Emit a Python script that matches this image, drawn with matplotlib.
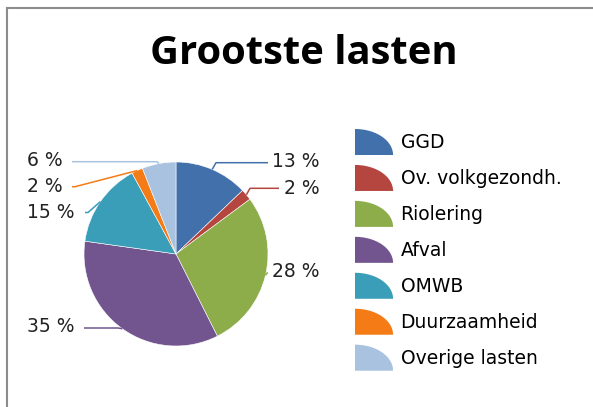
import numpy as np
import matplotlib.pyplot as plt
from matplotlib.lines import Line2D
from matplotlib.patches import Polygon, Wedge
from matplotlib.legend_handler import HandlerBase

categories = ['GGD', 'Ov. volkgezondh.', 'Riolering', 'Afval', 'OMWB',
              'Duurzaamheid', 'Overige lasten']
shares = [13, 2, 28, 35, 15, 2, 6]
colors = ['#4170AA', '#B5453F', '#8CAD4A', '#72558F', '#3A9EB8', '#F47B15', '#A8C2DF']

W, H = 593, 407

# label placement in pixels (x of text, y from top, x where the leader line starts)
label_pos = [
    (320, 161.5, 'right', 268, 162.7),
    (320, 188.0, 'right', 279, 188.3),
    (320, 271.5, 'right', 268, 273.0),
    (27, 326.0, 'left', 84, 328.0),
    (27, 213.0, 'left', 85, 212.5),
    (27, 187.0, 'left', 72, 186.7),
    (27, 160.5, 'left', 72, 161.7),
]
elbow_x = [216, 250, 267, 118, 88, 75, 157]


class QuarterHandler(HandlerBase):
    def create_artists(self, legend, orig, xd, yd, width, height, fontsize, trans):
        x0, y0 = -xd, -yd
        a = np.linspace(np.pi / 2, 0, 40)
        pts = [(x0, y0)] + [(x0 + width * np.cos(t), y0 + height * np.sin(t)) for t in a]
        p = Polygon(pts, closed=True, facecolor=orig.get_facecolor(),
                    edgecolor='none', transform=trans)
        return [p]


fig = plt.figure(figsize=(W / 100, H / 100), dpi=100)
ax = fig.add_axes([0, 0, 1, 1])
cx, cy, r = 176, H - 254, 92
wedges, _ = ax.pie(shares, colors=colors, startangle=90, counterclock=False,
                   center=(cx, cy), radius=r, frame=False,
                   wedgeprops=dict(edgecolor='white', linewidth=0.4))
ax.set_xlim(0, W)
ax.set_ylim(0, H)
ax.axis('off')

for w, v, (tx, ty, ha, hx, ly), ex in zip(wedges, shares, label_pos, elbow_x):
    mid = np.deg2rad((w.theta1 + w.theta2) / 2)
    axx, axy = cx + r * np.cos(mid), cy + r * np.sin(mid)
    ax.plot([hx, ex, axx], [H - ly, H - ly, axy], color=w.get_facecolor(), lw=1.1,
            solid_capstyle='butt')
    ax.text(tx, H - ty, f'{v} %', ha=ha, va='center', fontsize=13.5, color='#222222')

ax.text(304, H - 64, 'Grootste lasten', ha='center', va='baseline',
        fontsize=28.8, fontweight='bold', family='Open Sans')

ax.legend(wedges, categories, handler_map={Wedge: QuarterHandler()},
          loc='upper left', bbox_to_anchor=(355, H - 129), bbox_transform=ax.transData,
          frameon=False, fontsize=13.5, handlelength=2.03, handleheight=1.757,
          labelspacing=0.53, handletextpad=0.4, borderpad=0, borderaxespad=0)

fig.add_artist(Line2D([7 / W, 7 / W], [0, 1 - 8 / H], transform=fig.transFigure,
                      color='#8c8c8c', lw=1.5))
fig.add_artist(Line2D([7 / W, 1], [1 - 8 / H, 1 - 8 / H], transform=fig.transFigure,
                      color='#8c8c8c', lw=1.5))

fig.savefig('out.png', dpi=100)
